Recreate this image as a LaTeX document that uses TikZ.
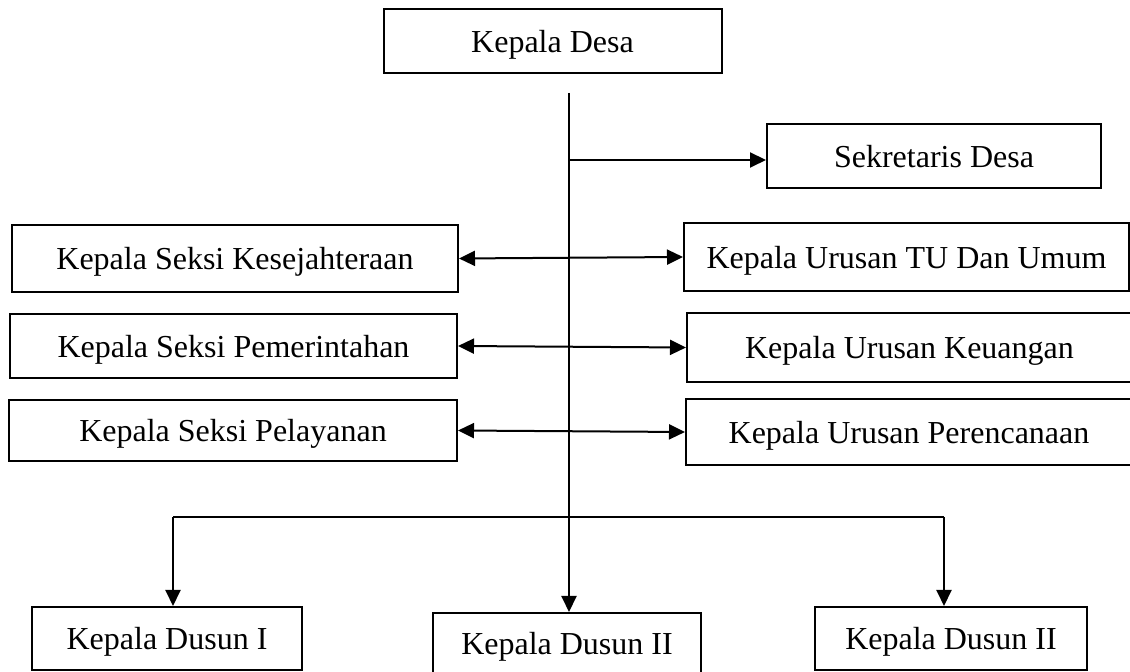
\documentclass[tikz,border=0pt]{standalone}
\usepackage{fontspec}
\setmainfont{Liberation Serif}
\usepackage{tikz}
\usetikzlibrary{arrows.meta,positioning,calc}

\begin{document}
\begin{tikzpicture}[
        x=0.5pt, y=-0.5pt,
        >={Triangle[length=8pt,width=7.5pt]},
        box/.style={draw, line width=1pt, minimum height=32pt, inner sep=0pt, align=center,
                    text depth=0pt, font=\fontsize{16}{19}\selectfont},
        link/.style={line width=1pt}
    ]
        \useasboundingbox (0,0) rectangle (1130,672);
        % top
        \node[box, minimum width=169pt] (desa) at (552.5,41) {Kepala Desa};
        \node[box, minimum width=167pt] (sekdes) at (934,156.5) {Sekretaris Desa};
        % seksi (left) and urusan (right)
        \node[box, minimum width=223pt, minimum height=33.5pt] (kesra) at (235,258.5) {Kepala Seksi Kesejahteraan};
        \node[box, minimum width=222.5pt, minimum height=34pt] (tu) at (906.5,257) {Kepala Urusan TU Dan Umum};
        \node[box, minimum width=223.5pt] (pem) at (233.5,346) {Kepala Seksi Pemerintahan};
        \node[box, minimum width=222.5pt, minimum height=34.5pt] (keu) at (909.5,347.5) {Kepala Urusan Keuangan};
        \node[box, minimum width=224pt, minimum height=30.5pt] (pel) at (233,430.5) {Kepala Seksi Pelayanan};
        \node[box, minimum width=223pt, minimum height=33pt] (ren) at (909,432) {Kepala Urusan Perencanaan};
        % dusun
        \node[box, minimum width=135pt, minimum height=31.5pt] (dusun1) at (167,638.5) {Kepala Dusun I};
        \node[box, minimum width=134pt, minimum height=30.5pt] (dusun2) at (567,643.5) {Kepala Dusun II};
        \node[box, minimum width=136pt, minimum height=31.5pt] (dusun3) at (951,638.5) {Kepala Dusun II};

        \coordinate (spine) at (569,93);
        \coordinate (sek) at (569,160);
        \coordinate (barl) at (173,517);
        \coordinate (barr) at (944,517);

        \draw[link, ->] (spine) -- (spine |- dusun2.north);
        \draw[link, ->] (sek) -- (sek -| sekdes.west);
        \draw[link, <->] (kesra.east) -- (tu.west);
        \draw[link, <->] (pem.east) -- (keu.west);
        \draw[link, <->] (pel.east) -- (ren.west);
        \draw[link] (barl) -- (barr);
        \draw[link, ->] (barl) -- (barl |- dusun1.north);
        \draw[link, ->] (barr) -- (barr |- dusun3.north);
    \end{tikzpicture}
\end{document}
